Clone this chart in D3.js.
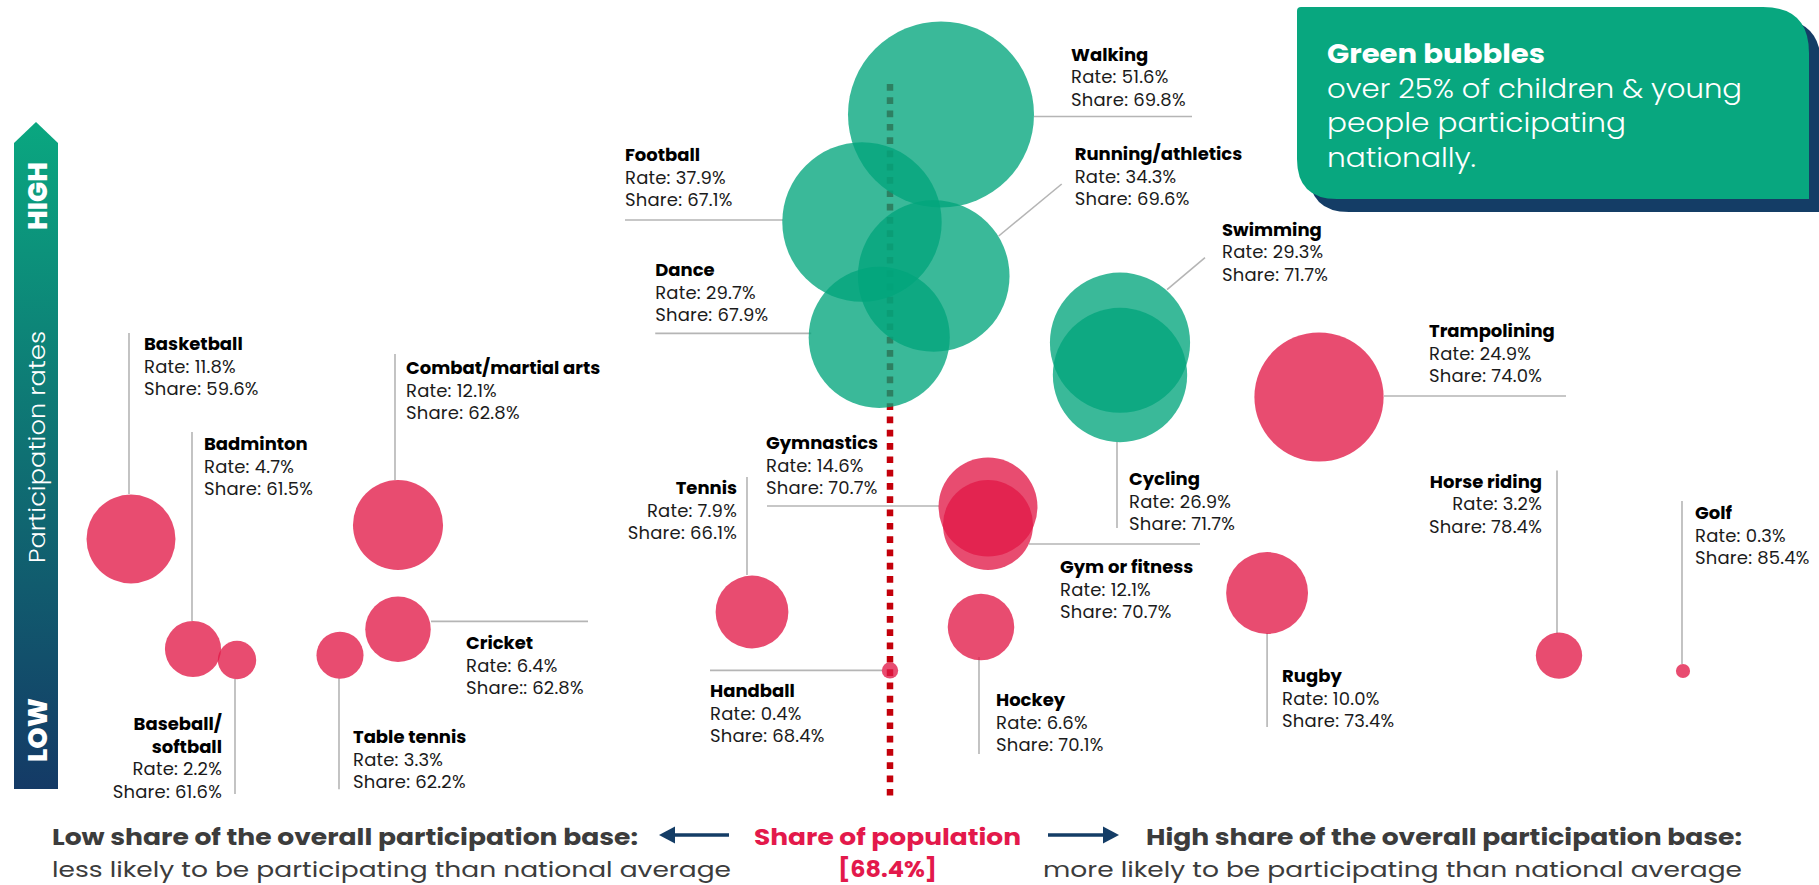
<!DOCTYPE html>
<html>
<head>
<meta charset="utf-8">
<script src="https://cdn.jsdelivr.net/npm/d3@7"></script>
<style>
  body { margin: 0; background: #fff; }
  svg { display: block; font-family: Poppins, Inter, "Open Sans", sans-serif; }
</style>
</head>
<body>
<svg width="1819" height="885"></svg>
<script>
var sports = ["Walking", "Football", "Running/athletics", "Dance", "Swimming", "Cycling",
  "Trampolining", "Basketball", "Badminton", "Baseball/\nsoftball", "Combat/martial arts",
  "Cricket", "Table tennis", "Tennis", "Handball", "Gymnastics", "Gym or fitness",
  "Hockey", "Rugby", "Horse riding", "Golf"];
var rates = [51.6, 37.9, 34.3, 29.7, 29.3, 26.9, 24.9, 11.8, 4.7, 2.2, 12.1,
  6.4, 3.3, 7.9, 0.4, 14.6, 12.1, 6.6, 10.0, 3.2, 0.3];
var shares = [69.8, 67.1, 69.6, 67.9, 71.7, 71.7, 74.0, 59.6, 61.5, 61.6, 62.8,
  62.8, 62.2, 66.1, 68.4, 70.7, 70.7, 70.1, 73.4, 78.4, 85.4];
var nationalShare = 68.4;
var greenThreshold = 25;

// the share axis in the original is hand-spread, so a polylinear scale
var shareStops = [59.6, 61.5, 61.6, 62.2, 62.8, 66.1, 67.1, 68.4, 69.8, 70.1, 70.7, 71.7, 74.0, 78.4, 85.4];
var rateStops = [0.3, 2.2, 4.7, 7.9, 10, 11.8, 12.1, 14.6, 24.9, 26.9, 29.5, 34.3, 37.9, 51.6];

var svg = d3.select("svg"),
    red = "#e11947",
    green = "#01a57c",
    navy = "#143d66",
    labelH = 22.5;

var x = d3.scaleLinear().domain(shareStops)
    .range([131, 193, 237, 340, 398, 752, 862, 890, 941, 981, 988, 1120, 1319, 1559, 1683]);
var y = d3.scaleLinear().domain(rateStops)
    .range([671, 660, 649, 612, 593, 539, 525, 507, 397, 375, 340, 276, 222, 114.5]);
var r = d3.scaleSqrt().domain([0, 51.6]).range([0, 93]);

// callout layout: leader line [x1,y1,x2,y2] and text [dx,dy,anchor], relative to bubble centre
var callouts = {
  "Walking":            {lead: [93, 2, 251, 2],        text: [130, -60, "start"]},
  "Football":           {lead: [-237, -2, -79, -2],    text: [-237, -67, "start"]},
  "Running/athletics":  {lead: [65, -40, 128, -92],    text: [141, -122, "start"]},
  "Dance":              {lead: [-224, -4, -68, -4],    text: [-224, -67, "start"]},
  "Swimming":           {lead: [47, -53, 85, -85],     text: [102, -113, "start"]},
  "Cycling":            {lead: [-3, 67, -3, 153],      text: [9, 104, "start"]},
  "Trampolining":       {lead: [65, -1, 247, -1],      text: [110, -66, "start"]},
  "Basketball":         {lead: [-2, -206, -2, -45],    text: [13, -195, "start"]},
  "Badminton":          {lead: [-1, -217, -1, -28],    text: [11, -205, "start"]},
  "Baseball/\nsoftball":{lead: [-2, 19, -2, 134],      text: [-15, 64, "end"]},
  "Combat/martial arts":{lead: [-3, -171, -3, -45],    text: [8, -157, "start"]},
  "Cricket":            {lead: [33, -8, 190, -8],      text: [68, 14, "start"]},
  "Table tennis":       {lead: [-1, 23, -1, 134],      text: [13, 82, "start"]},
  "Tennis":             {lead: [-5, -135, -5, -37],    text: [-15, -124, "end"]},
  "Handball":           {lead: [-180, 0, -8, 0],       text: [-180, 21, "start"]},
  "Gymnastics":         {lead: [-221, -1, -49, -1],    text: [-222, -64, "start"]},
  "Gym or fitness":     {lead: [41, 19, 212, 19],      text: [72, 42, "start"]},
  "Hockey":             {lead: [-2, 30, -2, 127],      text: [15, 73, "start"]},
  "Rugby":              {lead: [0, 40, 0, 134],        text: [15, 83, "start"]},
  "Horse riding":       {lead: [-2, -185, -2, -22],    text: [-17, -174, "end"]},
  "Golf":               {lead: [-1, -170, -1, -7],     text: [12, -158, "start"]}
};
var sharePrefix = {"Cricket": "Share:: "};

var bubbles = sports.map(function(s, i) {
  return {name: s, rate: rates[i], share: shares[i],
          cx: x(shares[i]), cy: y(rates[i]), r: r(rates[i])};
});

// gradient for the side arrow
var defs = svg.append("defs");
var grad = defs.append("linearGradient").attr("id", "arrowGrad")
    .attr("x1", 0).attr("y1", 0).attr("x2", 0).attr("y2", 1);
grad.append("stop").attr("offset", "0%").attr("stop-color", "#0aa780");
grad.append("stop").attr("offset", "100%").attr("stop-color", "#143a66");

// national average line
svg.append("line")
    .attr("x1", x(nationalShare)).attr("x2", x(nationalShare))
    .attr("y1", 84).attr("y2", 800)
    .attr("stroke", "#c4000b")
    .attr("stroke-width", 6.5)
    .attr("stroke-dasharray", "6.7 6.6");

// leader lines
svg.append("g").selectAll("line")
    .data(bubbles)
    .enter().append("line")
    .attr("x1", function(d) { return d.cx + callouts[d.name].lead[0]; })
    .attr("y1", function(d) { return d.cy + callouts[d.name].lead[1]; })
    .attr("x2", function(d) { return d.cx + callouts[d.name].lead[2]; })
    .attr("y2", function(d) { return d.cy + callouts[d.name].lead[3]; })
    .attr("stroke", "#b5b5b5")
    .attr("stroke-width", 1.6);

// bubbles
svg.append("g").selectAll("circle")
    .data(bubbles)
    .enter().append("circle")
    .attr("cx", function(d) { return d.cx; })
    .attr("cy", function(d) { return d.cy; })
    .attr("r", function(d) { return d.r; })
    .attr("fill", function(d) { return d.rate > greenThreshold ? green : red; })
    .attr("fill-opacity", 0.777);

// labels
var label = svg.append("g").selectAll("text")
    .data(bubbles)
    .enter().append("text")
    .attr("transform", function(d) {
      var t = callouts[d.name].text;
      return "translate(" + (d.cx + t[0]) + "," + (d.cy + t[1] + 6) + ")";
    })
    .attr("text-anchor", function(d) { return callouts[d.name].text[2]; })
    .attr("font-size", 18)
    .attr("fill", "#1b1b1b");

label.each(function(d) {
  var el = d3.select(this);
  var lines = d.name.split("\n");
  lines.forEach(function(l, i) {
    el.append("tspan").attr("x", 0).attr("y", i * labelH)
      .attr("font-weight", 700).attr("fill", "#000").text(l);
  });
  el.append("tspan").attr("x", 0).attr("y", lines.length * labelH)
    .attr("letter-spacing", 0.2)
    .text("Rate: " + d.rate.toFixed(1) + "%");
  el.append("tspan").attr("x", 0).attr("y", (lines.length + 1) * labelH)
    .attr("letter-spacing", 0.2)
    .text((sharePrefix[d.name] || "Share: ") + d.share.toFixed(1) + "%");
});

// side arrow
svg.append("path")
    .attr("d", "M14,789 L14,143 L36,122 L58,143 L58,789 Z")
    .attr("fill", "url(#arrowGrad)");

var sideText = [
  {t: "HIGH", y: 196, w: 800, s: 27, len: 68},
  {t: "Participation rates", y: 447, w: 300, s: 23, len: 232},
  {t: "LOW", y: 730, w: 800, s: 27, len: 64}
];
svg.append("g").selectAll("text")
    .data(sideText)
    .enter().append("text")
    .attr("transform", function(d) { return "translate(37," + d.y + ") rotate(-90)"; })
    .attr("text-anchor", "middle")
    .attr("dominant-baseline", "central")
    .attr("font-size", function(d) { return d.s; })
    .attr("font-weight", function(d) { return d.w; })
    .attr("textLength", function(d) { return d.len; })
    .attr("lengthAdjust", "spacingAndGlyphs")
    .attr("fill", "#fff")
    .text(function(d) { return d.t; });

// legend box (shadow + green card)
function cardPath(x0, y0, x1, y1) {
  return "M" + (x0 + 4) + "," + y0 +
    " L" + (x1 - 46) + "," + y0 +
    " Q" + x1 + "," + y0 + " " + x1 + "," + (y0 + 46) +
    " L" + x1 + "," + y1 +
    " L" + (x0 + 40) + "," + y1 +
    " Q" + x0 + "," + y1 + " " + x0 + "," + (y1 - 40) +
    " L" + x0 + "," + (y0 + 4) +
    " Q" + x0 + "," + y0 + " " + (x0 + 4) + "," + y0 + " Z";
}
svg.append("path").attr("d", cardPath(1309, 19, 1821, 212)).attr("fill", navy);
svg.append("path").attr("d", cardPath(1297, 7, 1809, 199)).attr("fill", "#08a77f");

var legendLines = ["Green bubbles", "over 25% of children & young", "people participating", "nationally."];
var legendLens = [218, 415, 299, 149];
svg.append("g").selectAll("text")
    .data(legendLines)
    .enter().append("text")
    .attr("x", 1327)
    .attr("y", function(d, i) { return 63 + i * 34.5; })
    .attr("font-size", 26)
    .attr("font-weight", function(d, i) { return i === 0 ? 700 : 300; })
    .attr("textLength", function(d, i) { return legendLens[i]; })
    .attr("lengthAdjust", "spacingAndGlyphs")
    .attr("fill", "#fff")
    .text(function(d) { return d; });

// bottom captions
var captions = [
  {t: "Low share of the overall participation base:", x: 52, y: 845, a: "start", w: 700, len: 586, c: "#3c3c3c"},
  {t: "less likely to be participating than national average", x: 52, y: 877, a: "start", w: 400, len: 679, c: "#3c3c3c"},
  {t: "High share of the overall participation base:", x: 1742, y: 845, a: "end", w: 700, len: 596, c: "#3c3c3c"},
  {t: "more likely to be participating than national average", x: 1742, y: 877, a: "end", w: 400, len: 699, c: "#3c3c3c"},
  {t: "Share of population", x: 887.5, y: 845, a: "middle", w: 700, len: 267, c: "#e3194b"},
  {t: "[" + nationalShare.toFixed(1) + "%]", x: 887.5, y: 877, a: "middle", w: 700, len: 99, c: "#e3194b"}
];
svg.append("g").selectAll("text")
    .data(captions)
    .enter().append("text")
    .attr("x", function(d) { return d.x; })
    .attr("y", function(d) { return d.y; })
    .attr("text-anchor", function(d) { return d.a; })
    .attr("font-size", 22)
    .attr("font-weight", function(d) { return d.w; })
    .attr("textLength", function(d) { return d.len; })
    .attr("lengthAdjust", "spacingAndGlyphs")
    .attr("fill", function(d) { return d.c; })
    .text(function(d) { return d.t; });

// arrows either side of the centre caption
var arrows = [{from: 729, to: 659}, {from: 1048, to: 1119}];
svg.append("g").selectAll("g")
    .data(arrows)
    .enter().append("g")
    .each(function(d) {
      var g = d3.select(this), dir = d.to > d.from ? 1 : -1;
      g.append("line").attr("x1", d.from).attr("x2", d.to - dir * 14)
        .attr("y1", 835).attr("y2", 835)
        .attr("stroke", navy).attr("stroke-width", 3.5);
      g.append("path")
        .attr("d", "M" + d.to + ",835 L" + (d.to - dir * 16) + ",826.5 L" + (d.to - dir * 16) + ",843.5 Z")
        .attr("fill", navy);
    });
</script>
</body>
</html>
